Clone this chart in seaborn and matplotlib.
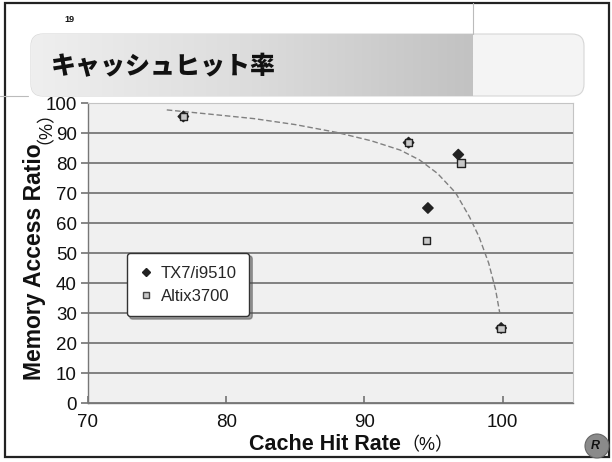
import numpy as np
import pandas as pd
import matplotlib
matplotlib.use("Agg")
import matplotlib.pyplot as plt
import seaborn as sns
from matplotlib.patches import FancyBboxPatch, Rectangle, Circle
from matplotlib.lines import Line2D

# ---------------- data ----------------
tx7_hit = [76.9, 93.2, 96.8, 94.6, 99.9]
tx7_ratio = [95.5, 86.8, 82.8, 65.0, 25.0]
altix_hit = [76.9, 93.2, 97.0, 94.5, 99.9]
altix_ratio = [95.5, 86.8, 80.0, 54.2, 24.9]
trend_hit = [75.7, 79.0, 82.0, 85.0, 88.0, 90.5, 92.6, 94.0, 95.3, 96.6, 97.6, 98.3, 99.0, 99.5, 99.8]
trend_ratio = [97.7, 96.2, 94.8, 92.8, 90.2, 87.4, 84.3, 81.0, 76.5, 70.1, 62.1, 55.4, 46.6, 37.7, 30.0]
series_names = ["TX7/i9510", "Altix3700"]
x_ticks = [70, 80, 90, 100]
y_ticks = [0, 10, 20, 30, 40, 50, 60, 70, 80, 90, 100]
title = "キャッシュヒット率"
x_label = "Cache Hit Rate"
y_label = "Memory Access Ratio"
unit = "（%）"
page_no = "19"

df = pd.DataFrame({
    "hit": tx7_hit + altix_hit,
    "ratio": tx7_ratio + altix_ratio,
    "series": [series_names[0]] * len(tx7_hit) + [series_names[1]] * len(altix_hit),
})
trend = pd.DataFrame({"hit": trend_hit, "ratio": trend_ratio})

sns.set_theme(style="white")
plt.rcParams["font.family"] = ["Liberation Sans", "Noto Sans CJK JP", "DejaVu Sans"]

W, H = 612, 462
fig = plt.figure(figsize=(W / 100, H / 100), dpi=100)
fig.patch.set_facecolor("white")

# ---------------- slide decoration ----------------
deco = fig.add_axes([0, 0, 1, 1], zorder=0)
deco.set_xlim(0, W)
deco.set_ylim(H, 0)
deco.axis("off")

deco.add_patch(Rectangle((5, 3), 604, 454, fill=False, edgecolor="#222222", linewidth=1.6))
deco.plot([473, 473], [3, 34], color="#bbbbbb", lw=0.8)
deco.plot([0, 28], [96, 96], color="#bbbbbb", lw=0.8)

band = FancyBboxPatch((31, 34), 553, 62, boxstyle="round,pad=0,rounding_size=12",
                      facecolor="#f4f4f4", edgecolor="#d6d6d6", linewidth=0.8)
deco.add_patch(band)
grad = np.linspace(0, 1, 256).reshape(1, -1)
cmap = matplotlib.colors.LinearSegmentedColormap.from_list("g", ["#efefef", "#dcdcdc", "#c2c2c2"])
im = deco.imshow(grad, extent=(31, 473, 96, 34), cmap=cmap, aspect="auto", zorder=1)
clip = FancyBboxPatch((31, 34), 560, 62, boxstyle="round,pad=0,rounding_size=12",
                      transform=deco.transData, facecolor="none", edgecolor="none")
deco.add_patch(clip)
im.set_clip_path(clip)
deco.set_xlim(0, W)
deco.set_ylim(H, 0)

deco.text(51, 66, title, fontsize=18, fontweight="heavy", va="center", ha="left",
          family=["Noto Sans CJK JP"], color="#111111", zorder=3)
deco.text(64, 19, page_no, fontsize=6.5, fontweight="bold", va="center", ha="left", color="#111111")

deco.add_patch(Circle((597, 446), 12, facecolor="#8a8a8a", edgecolor="#666666", lw=0.8, zorder=2))
deco.text(595, 446, "R", fontsize=9, fontweight="bold", style="italic", ha="center", va="center",
          color="#111111", zorder=3)

# ---------------- chart ----------------
left, right = 88 / W, 573 / W
bottom, top = 1 - 403 / H, 1 - 103 / H
ax = fig.add_axes([left, bottom, right - left, top - bottom], zorder=2)
ax.set_facecolor("#f0f0f0")

sns.lineplot(data=trend, x="hit", y="ratio", sort=False, ax=ax, color="#808080",
             linestyle=(0, (4, 2)), linewidth=1.0, zorder=3)
sns.scatterplot(data=df, x="hit", y="ratio", hue="series", style="series",
                markers={series_names[0]: "D", series_names[1]: "s"},
                palette={series_names[0]: "#222222", series_names[1]: "#c8c8c8"},
                s=[28], edgecolor="#222222", linewidth=1.0, ax=ax, zorder=4, legend=False)

ax.set_xlim(70, 105.1)
ax.set_ylim(0, 100)
ax.set_xticks(x_ticks)
ax.set_yticks(y_ticks)
ax.yaxis.grid(True, color="#6e6e6e", linewidth=1.2)
ax.xaxis.grid(False)
ax.tick_params(axis="y", which="major", direction="out", length=5, color="#777777",
               labelsize=13.5, pad=3, left=True, labelcolor="#111111")
ax.tick_params(axis="x", which="major", direction="in", length=5, color="#777777",
               labelsize=13.5, pad=8, bottom=True, labelcolor="#111111")
for s in ["left", "bottom"]:
    ax.spines[s].set_color("#777777")
    ax.spines[s].set_linewidth(1.0)
for s in ["top", "right"]:
    ax.spines[s].set_color("#c4c4c4")
    ax.spines[s].set_linewidth(0.8)
ax.set_xlabel("")
ax.set_ylabel("")

# axis labels (bold name + normal unit)
xt = fig.text(325 / W, 1 - 444 / H, x_label, fontsize=15.5, fontweight="bold", ha="center",
              va="center", color="#111111")
fig.canvas.draw()
ax.annotate(unit, xy=(1, 0.5), xycoords=xt, xytext=(0, -1), textcoords="offset points",
            fontsize=13, ha="left", va="center", color="#111111")
yt = fig.text(35 / W, 1 - 262 / H, y_label, fontsize=16.5, fontweight="bold", rotation=90,
              ha="center", va="center", color="#111111")
ax.annotate(unit, xy=(0.5, 1), xycoords=yt, xytext=(1, 0), textcoords="offset points",
            fontsize=13, rotation=90, ha="center", va="bottom", color="#111111")

# legend
handles = [
    Line2D([], [], marker="D", color="none", markerfacecolor="#222222", markeredgecolor="#222222", markersize=4.5),
    Line2D([], [], marker="s", color="none", markerfacecolor="#c8c8c8", markeredgecolor="#444444", markersize=5),
]
leg = ax.legend(handles, series_names, loc="upper left", bbox_to_anchor=(0.08, 0.5),
                frameon=True, fancybox=True, shadow=True, fontsize=12,
                handlelength=0.8, handletextpad=0.5, borderpad=0.75, labelspacing=0.5,
                borderaxespad=0)
leg.get_frame().set_edgecolor("#333333")
leg.get_frame().set_linewidth(1.0)
leg.get_frame().set_facecolor("white")
leg.set_zorder(6)

fig.savefig("out.png", dpi=100)
